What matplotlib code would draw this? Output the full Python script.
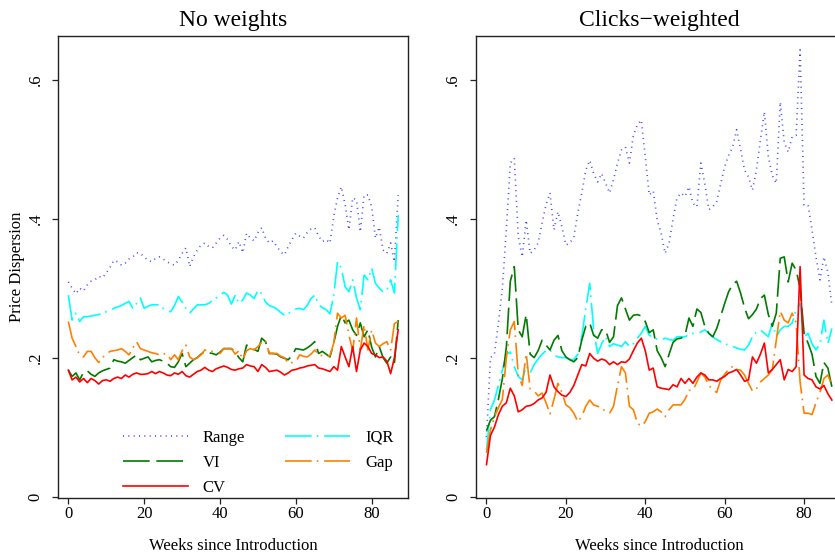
import matplotlib
matplotlib.use("Agg")
import matplotlib.pyplot as plt
import numpy as np

plt.rcParams['font.family'] = ['Liberation Serif', 'DejaVu Serif']

# ── Data ──
weeks = list(range(88))

# No weights
nw_range = [.309, .300, .292, .300, .296, .305, .310, .312, .317, .315, .322, .330, .340, .338, .333, .336,
            .342, .345, .351, .350, .345, .340, .338, .343, .345, .342, .338, .335, .333, .340, .350, .358,
            .331, .345, .355, .362, .365, .360, .358, .365, .372, .376, .370, .360, .355, .367, .351, .379,
            .372, .368, .380, .387, .372, .365, .368, .360, .352, .348, .360, .370, .379, .375, .372, .380,
            .385, .387, .375, .367, .370, .365, .403, .430, .446, .420, .384, .430, .427, .381, .434, .434,
            .417, .372, .388, .355, .350, .365, .338, .434]
nw_iqr = [.290, .254, .264, .252, .259, .259, .260, .261, .262, .264, .266, .268, .271, .273, .275, .278,
          .281, .271, .278, .286, .271, .274, .276, .276, .276, .271, .268, .266, .275, .288, .280, .271,
          .264, .270, .276, .276, .276, .278, .282, .286, .290, .294, .290, .277, .290, .278, .283, .293,
          .290, .285, .297, .292, .280, .275, .273, .270, .265, .261, .264, .266, .270, .271, .269, .275,
          .285, .290, .276, .272, .269, .263, .290, .338, .329, .302, .295, .312, .286, .269, .319, .312,
          .329, .307, .300, .295, .297, .312, .293, .405]
nw_vi = [.182, .173, .178, .168, .179, .181, .176, .173, .178, .181, .183, .185, .197, .195, .194, .192,
         .196, .200, .204, .197, .199, .201, .194, .196, .197, .195, .192, .187, .186, .194, .206, .187,
         .192, .197, .200, .205, .209, .207, .206, .204, .208, .213, .213, .213, .208, .200, .194, .218,
         .216, .212, .209, .228, .223, .206, .206, .205, .201, .199, .197, .203, .213, .212, .211, .214,
         .218, .223, .206, .209, .205, .201, .221, .245, .261, .250, .254, .240, .232, .250, .230, .240,
         .215, .201, .216, .200, .192, .201, .192, .254]
nw_gap = [.252, .228, .216, .203, .201, .209, .209, .200, .193, .200, .205, .209, .210, .211, .213, .209,
          .204, .214, .223, .213, .211, .209, .207, .206, .204, .205, .206, .197, .204, .197, .210, .218,
          .201, .197, .200, .204, .211, .210, .209, .207, .206, .213, .213, .213, .205, .210, .197, .210,
          .213, .211, .216, .222, .225, .206, .206, .206, .202, .200, .192, .193, .194, .204, .202, .201,
          .205, .211, .204, .203, .201, .203, .221, .264, .257, .261, .233, .209, .257, .211, .247, .211,
          .240, .221, .216, .220, .223, .211, .249, .252]
nw_cv = [.182, .168, .172, .165, .170, .164, .170, .167, .162, .167, .168, .166, .170, .172, .170, .175,
         .172, .176, .178, .176, .176, .177, .180, .177, .180, .178, .175, .174, .178, .176, .180, .174,
         .172, .176, .180, .182, .186, .182, .180, .184, .186, .188, .186, .183, .182, .184, .185, .190,
         .188, .187, .180, .190, .186, .180, .181, .182, .179, .175, .178, .182, .183, .185, .186, .188,
         .189, .190, .185, .184, .182, .180, .187, .182, .216, .201, .187, .216, .180, .211, .221, .216,
         .206, .204, .200, .201, .195, .177, .200, .240]

# Clicks-weighted
cw_range = [.086, .200, .205, .250, .300, .385, .480, .487, .374, .345, .398, .350, .355, .365, .394, .420,
            .437, .384, .410, .388, .362, .365, .374, .408, .437, .470, .484, .465, .453, .465, .451, .437,
            .456, .480, .499, .503, .480, .520, .535, .542, .489, .434, .440, .398, .379, .350, .365, .400,
            .430, .437, .432, .446, .422, .417, .480, .450, .413, .417, .425, .450, .475, .491, .503, .528,
            .500, .470, .460, .441, .470, .513, .554, .489, .462, .451, .568, .510, .496, .518, .520, .643,
            .420, .420, .384, .345, .312, .345, .323, .275]
cw_iqr = [.067, .125, .139, .160, .182, .205, .208, .187, .173, .168, .188, .178, .190, .198, .205, .210,
          .211, .204, .201, .200, .200, .197, .197, .205, .230, .270, .307, .240, .206, .220, .230, .216,
          .220, .218, .216, .223, .216, .220, .228, .235, .245, .232, .230, .226, .226, .228, .226, .225,
          .230, .230, .230, .233, .235, .235, .237, .240, .235, .230, .226, .223, .220, .218, .216, .214,
          .212, .211, .218, .230, .237, .240, .235, .230, .250, .230, .240, .245, .245, .250, .269, .278,
          .230, .235, .220, .211, .220, .254, .220, .242]
cw_vi = [.095, .110, .115, .140, .170, .215, .310, .331, .240, .230, .262, .205, .200, .210, .225, .218,
         .211, .225, .232, .210, .201, .197, .194, .200, .225, .245, .250, .232, .228, .240, .240, .222,
         .230, .275, .286, .270, .254, .261, .262, .260, .252, .236, .240, .210, .200, .187, .205, .222,
         .227, .228, .232, .257, .245, .270, .265, .245, .235, .230, .242, .260, .278, .295, .305, .310,
         .293, .272, .256, .262, .270, .285, .290, .262, .245, .264, .343, .345, .309, .336, .326, .300,
         .235, .221, .205, .173, .163, .193, .185, .158]
cw_gap = [.063, .096, .115, .128, .140, .200, .240, .252, .175, .160, .206, .155, .152, .145, .149, .135,
          .119, .140, .163, .150, .132, .128, .120, .108, .115, .130, .139, .132, .130, .128, .122, .120,
          .130, .160, .187, .178, .130, .125, .106, .101, .108, .120, .122, .126, .122, .115, .125, .132,
          .132, .132, .140, .153, .153, .165, .178, .172, .161, .153, .150, .168, .176, .183, .187, .183,
          .182, .175, .163, .152, .155, .165, .170, .175, .183, .225, .267, .254, .250, .264, .250, .165,
          .120, .120, .118, .135, .150, .170, .175, .160]
cw_cv = [.046, .088, .100, .118, .130, .135, .156, .145, .122, .125, .130, .131, .134, .139, .142, .150,
         .175, .158, .151, .146, .144, .150, .160, .175, .190, .188, .206, .199, .195, .198, .196, .190,
         .194, .190, .194, .193, .198, .210, .221, .228, .210, .182, .185, .158, .156, .155, .154, .161,
         .158, .170, .163, .170, .163, .172, .178, .175, .168, .168, .166, .170, .173, .178, .180, .183,
         .175, .166, .168, .201, .192, .205, .221, .178, .183, .190, .197, .168, .183, .180, .187, .331,
         .175, .170, .168, .158, .155, .160, .148, .139]

panels = [
    ('No weights', [nw_range, nw_iqr, nw_vi, nw_gap, nw_cv]),
    ('Clicks\u2212weighted', [cw_range, cw_iqr, cw_vi, cw_gap, cw_cv]),
]
names = ['Range', 'IQR', 'VI', 'Gap', 'CV']
colors = ['#4646ff', '#00ffff', '#007a00', '#ff8000', '#ff0000']
dashes = [(0.6, 2.6), (16, 3, 1, 3.5), (16, 4), (16, 3, 1, 3.5), None]

yticks = [0, .2, .4, .6]
ytick_labels = ['0', '.2', '.4', '.6']
xticks = [0, 20, 40, 60, 80]

fig = plt.figure(figsize=(8.35, 5.54), dpi=100)
axes = [fig.add_axes([0.0695, 0.1011, 0.4192, 0.834]),
        fig.add_axes([0.5697, 0.1011, 0.4389, 0.834])]

for ax, (title, series) in zip(axes, panels):
    for vals, name, col, d in zip(series, names, colors, dashes):
        ln, = ax.plot(weeks, vals, color=col, lw=1.2, label=name)
        if d is not None:
            ln.set_dashes(d)
    ax.set_xlim(-2.72, 89.6)
    ax.set_ylim(-0.002, 0.663)
    ax.set_xticks(xticks)
    ax.set_yticks(yticks)
    ax.set_yticklabels(ytick_labels)
    for lab in ax.get_yticklabels():
        lab.set_rotation(90)
        lab.set_va('center')
    ax.tick_params(direction='out', length=4, width=0.9, labelsize=12, color='#222222')
    ax.tick_params(axis='y', pad=6.5)
    ax.tick_params(axis='x', pad=2)
    for sp in ax.spines.values():
        sp.set_linewidth(1.0)
        sp.set_color('#222222')
    ax.set_title(title, fontsize=17, pad=7)
    ax.set_xlabel('Weeks since Introduction', fontsize=12)
    ax.xaxis.set_label_coords(0.5, -0.086)

axes[0].set_ylabel('Price Dispersion', fontsize=12)
axes[0].yaxis.set_label_coords(-0.095, 0.5)

order = ['Range', 'VI', 'CV', 'IQR', 'Gap']
h0 = {l.get_label(): l for l in axes[0].get_lines()}
axes[0].legend([h0[n] for n in order], order, ncol=2, frameon=False, fontsize=12,
               loc='upper left', bbox_to_anchor=(0.185, 0.148), borderaxespad=0, borderpad=0,
               handlelength=3.9, handletextpad=0.9, columnspacing=2.4, labelspacing=0.55)

fig.savefig('out.png', dpi=100)
